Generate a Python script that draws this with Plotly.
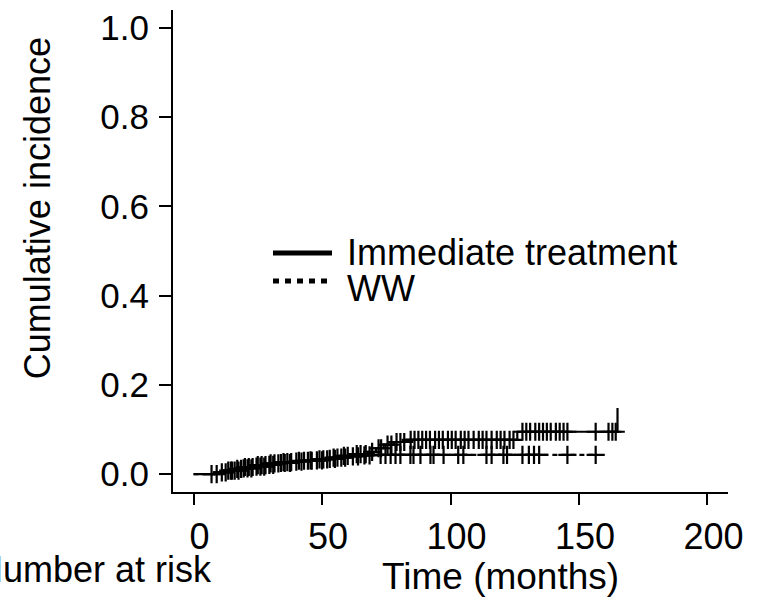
import numpy as np
import plotly.graph_objects as go

# ---------------- data ----------------
# Immediate treatment: step times (months) and cumulative incidence after each step
imm_time = [0, 8, 12, 16, 19, 24, 29, 34, 40, 47, 53, 57, 62, 68, 71, 74, 78, 83, 126, 165]
imm_ci = [0, 0.004, 0.008, 0.012, 0.016, 0.020, 0.024, 0.027, 0.030, 0.033, 0.037,
          0.041, 0.045, 0.050, 0.058, 0.066, 0.072, 0.077, 0.095, 0.148]
imm_censor = [7, 11, 13.5, 15, 17, 18.5, 20, 21.5, 23, 25, 26.5, 28, 30, 31.5, 33, 35, 36.5,
              38, 41, 43, 44.5, 46, 49, 50.5, 52, 54.5, 56, 58.5, 60, 63.5, 65, 67, 69.5,
              72, 73, 75.5, 77, 79, 80.5, 82, 84.5, 86, 87.5, 89, 90.5, 92, 94, 95.5, 97,
              99, 100.5, 102, 104, 105.5, 107, 109, 111, 112.5, 114, 116, 118, 119.5, 121,
              123, 124.5, 128, 129.5, 131, 133, 134.5, 136, 137.5, 139, 141, 142.5, 144,
              145.5, 156.5, 161.5, 163, 164.3]

# Watchful waiting (WW)
ww_time = [0, 10, 14, 18, 23, 28, 33, 39, 45, 51, 56, 61, 66, 70, 157]
ww_ci = [0, 0.004, 0.008, 0.013, 0.017, 0.021, 0.025, 0.028, 0.031, 0.034, 0.037,
         0.040, 0.042, 0.043, 0.043]
ww_censor = [9, 12.5, 14.5, 16, 17.5, 19.5, 21, 22.5, 24.5, 26, 27.5, 29.5, 31, 34, 35.5,
             37.5, 40, 42, 45.5, 48, 50, 53, 55, 57.5, 59, 62, 64, 66.5, 68.5, 72.8, 74.7,
             76.7, 78.6, 80.5, 84.4, 85.6, 88.3, 92.2, 93.4, 97.3, 103, 105, 114, 116,
             120.6, 122, 128, 130.5, 132.5, 134.5, 145.5, 156.5]

x_ticks = [0, 50, 100, 150, 200]
y_ticks = [0.0, 0.2, 0.4, 0.6, 0.8, 1.0]
series_names = ["Immediate treatment", "WW"]

FONT = "Liberation Sans, Arial, sans-serif"


def step_value(t, times, vals):
    idx = np.searchsorted(np.asarray(times), np.asarray(t), side="right") - 1
    return np.asarray(vals)[idx]


fig = go.Figure()

# step curves
fig.add_trace(go.Scatter(x=imm_time, y=imm_ci, mode="lines", line_shape="hv",
                         line=dict(color="black", width=2.2), name=series_names[0],
                         showlegend=False))
fig.add_trace(go.Scatter(x=ww_time, y=ww_ci, mode="lines", line_shape="hv",
                         line=dict(color="black", width=2.2, dash="5px,4px"),
                         name=series_names[1], showlegend=False))

# censoring marks
fig.add_trace(go.Scatter(x=imm_censor, y=step_value(imm_censor, imm_time, imm_ci),
                         mode="markers", showlegend=False,
                         marker=dict(symbol="cross-thin", size=13,
                                     line=dict(color="black", width=2.2))))
fig.add_trace(go.Scatter(x=ww_censor, y=step_value(ww_censor, ww_time, ww_ci),
                         mode="markers", showlegend=False,
                         marker=dict(symbol="cross-thin", size=13,
                                     line=dict(color="black", width=2.2))))

L, R, T, B = 173, 44, 8, 111
W, H = 772, 603
pw, ph = W - L - R, H - T - B


def px(xp):
    return (xp - L) / pw


def py(yp):
    return (H - B - yp) / ph


# manual legend
fig.add_shape(type="line", xref="paper", yref="paper", x0=px(273), x1=px(332),
              y0=py(252), y1=py(252), line=dict(color="black", width=5))
fig.add_shape(type="line", xref="paper", yref="paper", x0=px(273), x1=px(332),
              y0=py(280), y1=py(280), line=dict(color="black", width=5, dash="6px,6px"))
fig.add_annotation(text=series_names[0], xref="paper", yref="paper", x=px(345), y=py(252),
                   xanchor="left", yanchor="middle", showarrow=False,
                   font=dict(family=FONT, size=36, color="black"))
fig.add_annotation(text=series_names[1], xref="paper", yref="paper", x=px(345), y=py(288),
                   xanchor="left", yanchor="middle", showarrow=False,
                   font=dict(family=FONT, size=36, color="black"))

# axis titles and cut-off risk-table heading
fig.add_annotation(text="Time (months)", xref="paper", yref="paper", x=px(500), y=py(577),
                   xanchor="center", yanchor="middle", showarrow=False,
                   font=dict(family=FONT, size=37, color="black"))
fig.add_annotation(text="Cumulative incidence", xref="paper", yref="paper", x=px(37),
                   y=py(207), xanchor="center", yanchor="middle", textangle=-90,
                   showarrow=False, font=dict(family=FONT, size=36, color="black"))
fig.add_annotation(text="Number at risk", xref="paper", yref="paper", x=px(-25), y=py(570),
                   xanchor="left", yanchor="middle", showarrow=False,
                   font=dict(family=FONT, size=36, color="black"))

fig.update_layout(
    width=W, height=H,
    margin=dict(l=L, r=R, t=T, b=B, pad=0),
    plot_bgcolor="white", paper_bgcolor="white",
    font=dict(family=FONT, color="black"),
    showlegend=False,
    xaxis=dict(range=[-8, 208], tickvals=x_ticks, ticktext=[str(v) for v in x_ticks],
               ticks="outside", ticklen=11, tickwidth=2, tickcolor="black",
               showline=True, linewidth=2, linecolor="black", showgrid=False,
               zeroline=False, tickfont=dict(family=FONT, size=36, color="black"),
               ticklabelshift=6, ticklabelstandoff=1),
    yaxis=dict(range=[-0.04, 1.04], tickvals=y_ticks,
               ticktext=[f"{v:.1f}" for v in y_ticks],
               ticks="outside", ticklen=12, tickwidth=2, tickcolor="black",
               showline=True, linewidth=2, linecolor="black", showgrid=False,
               zeroline=False, tickfont=dict(family=FONT, size=35, color="black"),
               ticklabelstandoff=3),
)

fig.write_html("out.html", config={"displayModeBar": False},
               post_script="document.body.style.margin='0';document.body.style.overflow='hidden';")
